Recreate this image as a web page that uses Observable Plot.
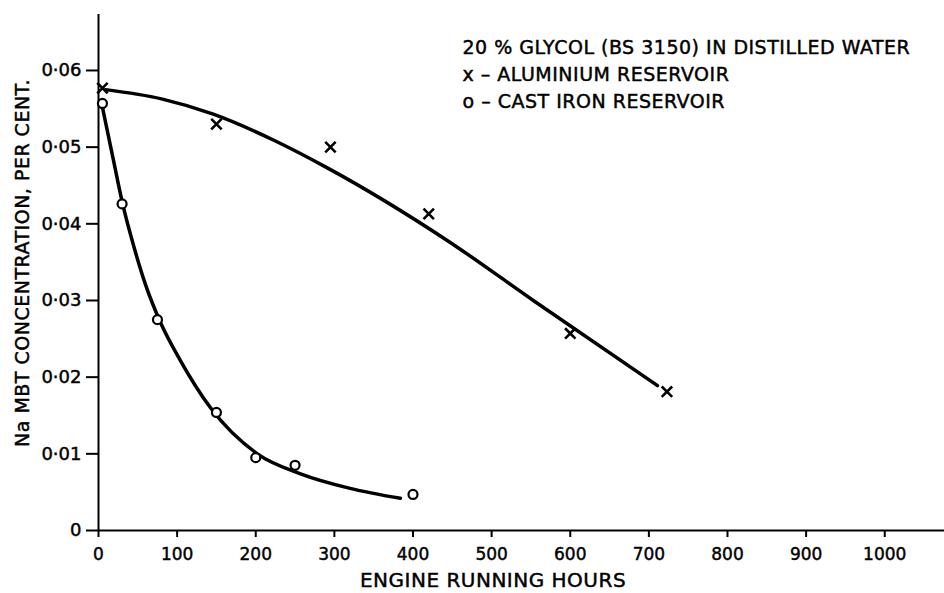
<!DOCTYPE html>
<html>
<head>
<meta charset="utf-8">
<script src="https://cdn.jsdelivr.net/npm/d3@7"></script>
<script src="https://cdn.jsdelivr.net/npm/@observablehq/plot@0.6"></script>
<style>
  html, body { margin: 0; padding: 0; background: #fff; }
  svg text { stroke: #000; stroke-width: 0.45px; }
</style>
</head>
<body>
<div id="chart"></div>
<script>
// Tick values
const xTicks = [0, 100, 200, 300, 400, 500, 600, 700, 800, 900, 1000];
const yTicks = [0, 0.01, 0.02, 0.03, 0.04, 0.05, 0.06];

// Measured points: aluminium reservoir (x markers)
const aluHours = [5, 150, 295, 420, 600, 723];
const aluConc  = [0.0577, 0.0530, 0.0500, 0.0413, 0.0257, 0.0181];

// Measured points: cast iron reservoir (o markers)
const ironHours = [5, 30, 75, 150, 200, 250, 400];
const ironConc  = [0.0557, 0.0426, 0.0275, 0.0154, 0.0095, 0.0085, 0.0047];

// Hand-drawn fitted curves
const aluCurveHours = [9, 80, 146, 223, 291, 444, 553, 711];
const aluCurveConc  = [0.0575, 0.0563, 0.0543, 0.0509, 0.0473, 0.0378, 0.0300, 0.0189];
const ironCurveHours = [5, 19, 30.5, 44.5, 60, 79, 104, 142.5, 202, 257, 320, 384];
const ironCurveConc  = [0.0552, 0.0483, 0.0427, 0.0372, 0.0320, 0.0271, 0.0222, 0.0160, 0.0100, 0.0074, 0.0055, 0.0042];

// Texts
const legendLines = [
  "20 % GLYCOL (BS 3150) IN DISTILLED WATER",
  "x – ALUMINIUM RESERVOIR",
  "o – CAST IRON RESERVOIR"
];
const xLabel = "ENGINE RUNNING HOURS";
const yLabel = "Na MBT CONCENTRATION, PER CENT.";

const alu = aluHours.map((h, i) => ({h, c: aluConc[i]}));
const iron = ironHours.map((h, i) => ({h, c: ironConc[i]}));
const aluCurve = aluCurveHours.map((h, i) => ({h, c: aluCurveConc[i]}));
const ironCurve = ironCurveHours.map((h, i) => ({h, c: ironCurveConc[i]}));

const font = "'DejaVu Sans', sans-serif";
const yFmt = d => d === 0 ? "0" : d3.format(".2f")(d).replace(".", "·");

const chart = Plot.plot({
  width: 944,
  height: 593,
  marginLeft: 98,
  marginRight: 0,
  marginTop: 14,
  marginBottom: 63,
  style: {fontFamily: font, fontSize: "18px", color: "#000", background: "#fff"},
  x: {domain: [0, 1076]},
  y: {domain: [0, 0.0673]},
  marks: [
    Plot.ruleX([0], {stroke: "#000", strokeWidth: 2}),
    Plot.ruleY([0], {stroke: "#000", strokeWidth: 2}),
    Plot.axisX(xTicks, {tickSize: 7, tickPadding: 10, strokeWidth: 2, stroke: "#000", fill: "#000", fontSize: 17, tickFormat: d => String(d), label: null}),
    Plot.axisY(yTicks, {tickSize: 12, tickPadding: 5, strokeWidth: 2, stroke: "#000", fill: "#000", fontSize: 18, tickFormat: yFmt, label: null}),
    Plot.line(aluCurve, {x: "h", y: "c", curve: "monotone-x", stroke: "#000", strokeWidth: 3.5}),
    Plot.line(ironCurve, {x: "h", y: "c", curve: "monotone-x", stroke: "#000", strokeWidth: 3.5}),
    Plot.dot(alu, {x: "h", y: "c", symbol: "times", r: 4.8, stroke: "#000", strokeWidth: 2.6}),
    Plot.dot(iron, {x: "h", y: "c", symbol: "circle", r: 4.5, stroke: "#000", fill: "#fff", strokeWidth: 2.2}),
    ...legendLines.map((t, i) => Plot.text([t], {
      frameAnchor: "top-left", dx: 364, dy: 33 + i * 27,
      textAnchor: "start", lineAnchor: "middle", fill: "#000", fontSize: 19
    })),
    Plot.text([xLabel], {frameAnchor: "bottom", dx: -28.5, dy: 50, textAnchor: "middle", lineAnchor: "middle", fill: "#000", fontSize: 20}),
    Plot.text([yLabel], {frameAnchor: "left", dx: -76, dy: -9.5, rotate: -90, textAnchor: "middle", lineAnchor: "middle", fill: "#000", fontSize: 19})
  ]
});

// slight letter spacing on the label texts, as in the lettering of the original
const spaced = new Set([...legendLines, xLabel, yLabel]);
d3.select(chart).selectAll("text").each(function() {
  if (spaced.has(this.textContent)) this.setAttribute("letter-spacing", "0.5");
});

document.getElementById("chart").appendChild(chart);
</script>
</body>
</html>
